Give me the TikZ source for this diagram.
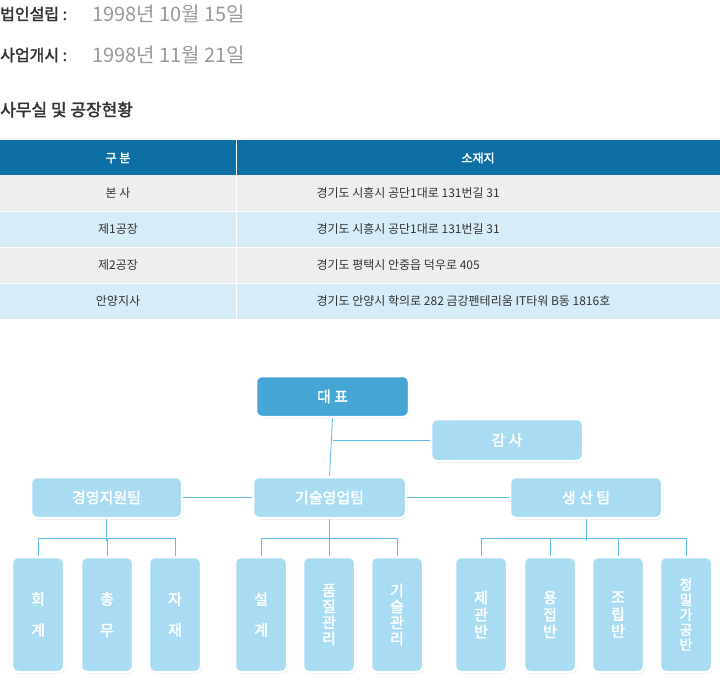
\documentclass[tikz,border=0pt]{standalone}
\usepackage{fontspec}
\setmainfont{Noto Sans CJK KR}[AutoFakeBold=2]
\usetikzlibrary{shadows}
\definecolor{hdr}{HTML}{0E6FA5}
\definecolor{rowg}{HTML}{EEEEEE}
\definecolor{rowb}{HTML}{D6ECF7}
\definecolor{ceo}{HTML}{45A6D6}
\definecolor{lb}{HTML}{A9DBF2}
\definecolor{ln}{HTML}{5CBDEB}
\definecolor{dk}{HTML}{333333}
\definecolor{gr}{HTML}{999999}
\tikzset{
 org/.style={draw=white,line width=2.5pt,rounded corners=6pt,text=white,font=\fontsize{15}{17}\selectfont\bfseries,
   drop shadow={opacity=0.25,shadow xshift=1pt,shadow yshift=-1.5pt},inner sep=0},
 sub/.style={org,fill=lb},
 conn/.style={draw=ln,line width=0.8pt},
 celltext/.style={font=\fontsize{12}{14}\selectfont,text=dk},
 lab/.style={font=\fontsize{16}{18}\selectfont\bfseries,text=dk,anchor=base west,inner sep=0},
 dat/.style={font=\fontsize{20}{22}\selectfont,text=gr,anchor=base west,inner sep=0}
}
\begin{document}
\begin{tikzpicture}[x=1pt,y=-1pt]
\useasboundingbox (0,0) rectangle (720,681);
\fill[white] (0,0) rectangle (720,681);
% top text
\node[lab] (l1) at (0,20) {법인설립 :};
\node[dat] (d1) at (92,21) {1998년 10월 15일};
\node[lab] (l2) at (0,61) {사업개시 :};
\node[dat] (d2) at (92,62) {1998년 11월 21일};
\node[lab,font=\fontsize{17}{19}\selectfont\bfseries] (h) at (0,116) {사무실 및 공장현황};
% table
\fill[hdr] (0,140) rectangle (720,175);
\fill[rowg] (0,175) rectangle (720,211);
\fill[rowb] (0,211) rectangle (720,247);
\fill[rowg] (0,247) rectangle (720,283);
\fill[rowb] (0,283) rectangle (720,319);
\draw[white,line width=1pt] (236,140) -- (236,319);
\draw[white,line width=1pt] (0,211) -- (720,211) (0,247) -- (720,247) (0,283) -- (720,283);
\node[font=\fontsize{12}{14}\selectfont\bfseries,text=white] (t1) at (118,158) {구 분};
\node[font=\fontsize{12}{14}\selectfont\bfseries,text=white] (t2) at (478,158) {소재지};
\foreach \y/\a/\b in {193/본 사/경기도 시흥시 공단1대로 131번길 31, 229/제1공장/경기도 시흥시 공단1대로 131번길 31, 265/제2공장/경기도 평택시 안중읍 덕우로 405, 301/안양지사/경기도 안양시 학의로 282 금강펜테리움 IT타워 B동 1816호}{
 \node[celltext] at (118,\y) {\a};
 \node[celltext,anchor=west] at (313,\y) {\b};
}
% org chart
\node[org,fill=ceo,minimum width=153pt,minimum height=41pt] (ceo) at (332.5,396.5) {대 표};
\node[sub,minimum width=152pt,minimum height=42pt] (aud) at (507,440) {감 사};
\node[sub,minimum width=151pt,minimum height=41pt] (m) at (106.5,497.5) {경영지원팀};
\node[sub,minimum width=153pt,minimum height=41pt] (t) at (329.5,497.5) {기술영업팀};
\node[sub,minimum width=152pt,minimum height=41pt] (p) at (586,497.5) {생 산 팀};
\draw[conn] (ceo.south) -- (t.north);
\draw[conn] (ceo.south |- aud.west) -- (aud.west);
\draw[conn] (m.east) -- (t.west);
\draw[conn] (t.east) -- (p.west);
\tikzset{leaf/.style={sub,minimum width=52pt,minimum height=115pt,font=\fontsize{15}{17}\selectfont\bfseries,align=center}}
\def\two#1#2{#1\\[14pt]#2}
\def\four#1#2#3#4{#1\\[-1pt]#2\\[-1pt]#3\\[-1pt]#4}
\node[leaf] (a1) at (38,614.5) {\two{회}{계}};
\node[leaf] (a2) at (107,614.5) {\two{총}{무}};
\node[leaf] (a3) at (175,614.5) {\two{자}{재}};
\node[leaf] (b1) at (261,614.5) {\two{설}{계}};
\node[leaf] (b2) at (329,614.5) {\four{품}{질}{관}{리}};
\node[leaf] (b3) at (397,614.5) {\four{기}{술}{관}{리}};
\node[leaf] (c1) at (481,614.5) {제\\관\\반};
\node[leaf] (c2) at (550,614.5) {용\\접\\반};
\node[leaf] (c3) at (618,614.5) {조\\립\\반};
\node[leaf,font=\fontsize{14}{15}\selectfont\bfseries] (c4) at (686,614.5) {정\\밀\\가\\공\\반};
\foreach \pp/\kids in {m/{a1,a2,a3},t/{b1,b2,b3},p/{c1,c2,c3,c4}}{
  \draw[conn] (\pp.south) -- ++(0,22);
  \foreach \k in \kids { \draw[conn] (\k.north) -- ++(0,-17) -| (\pp.south |- 0,540); }
}
\end{tikzpicture}
\end{document}
